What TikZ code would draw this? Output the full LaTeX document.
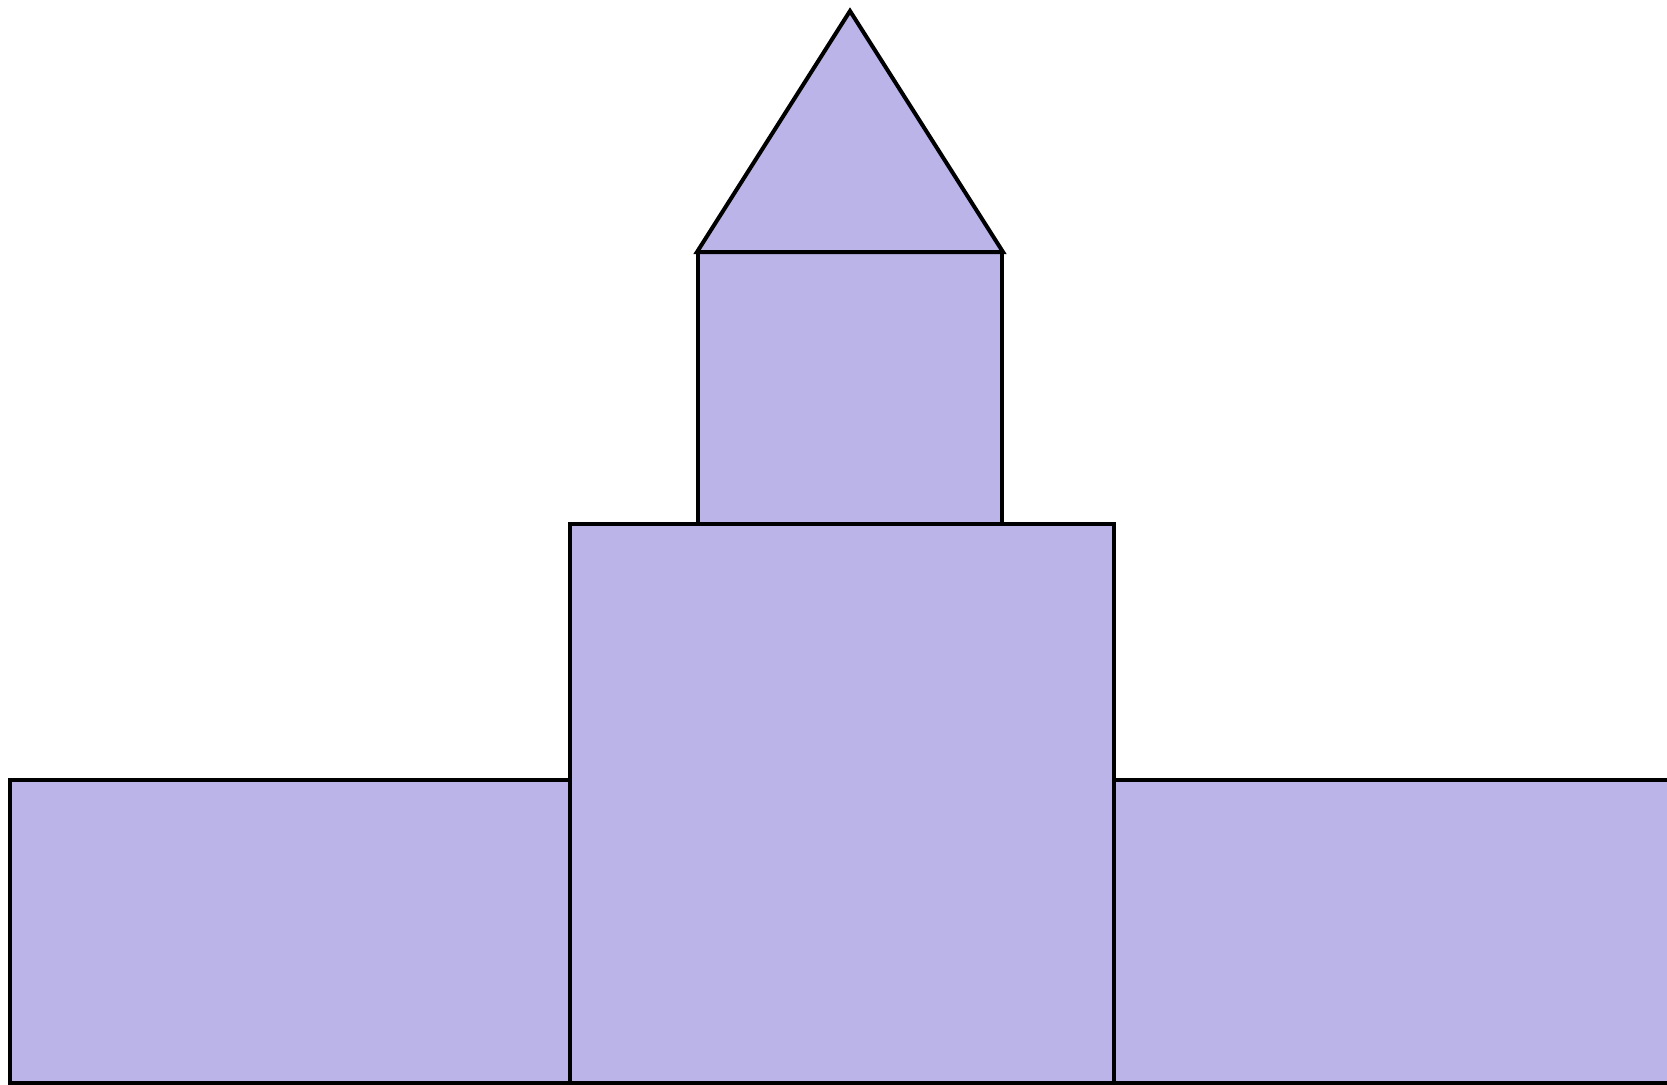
\documentclass[tikz,border=0pt]{standalone}
\definecolor{lav}{RGB}{187,180,233}
\tikzset{part/.style={fill=lav,draw=black,line width=0.08cm}}
\begin{document}
\begin{tikzpicture}[x=0.02cm,y=-0.02cm]
\useasboundingbox (0,0) rectangle (1667,1085);
\clip (0,0) rectangle (1667,1085);
\draw[part] (10,780) rectangle (570,1083);
\draw[part] (1114,780) rectangle (1700,1083);
\draw[part] (570,524) rectangle (1114,1083);
\draw[part] (698,252) rectangle (1002,524);
\draw[part] (697,252) -- (850,11) -- (1003,252) -- cycle;
\end{tikzpicture}
\end{document}
